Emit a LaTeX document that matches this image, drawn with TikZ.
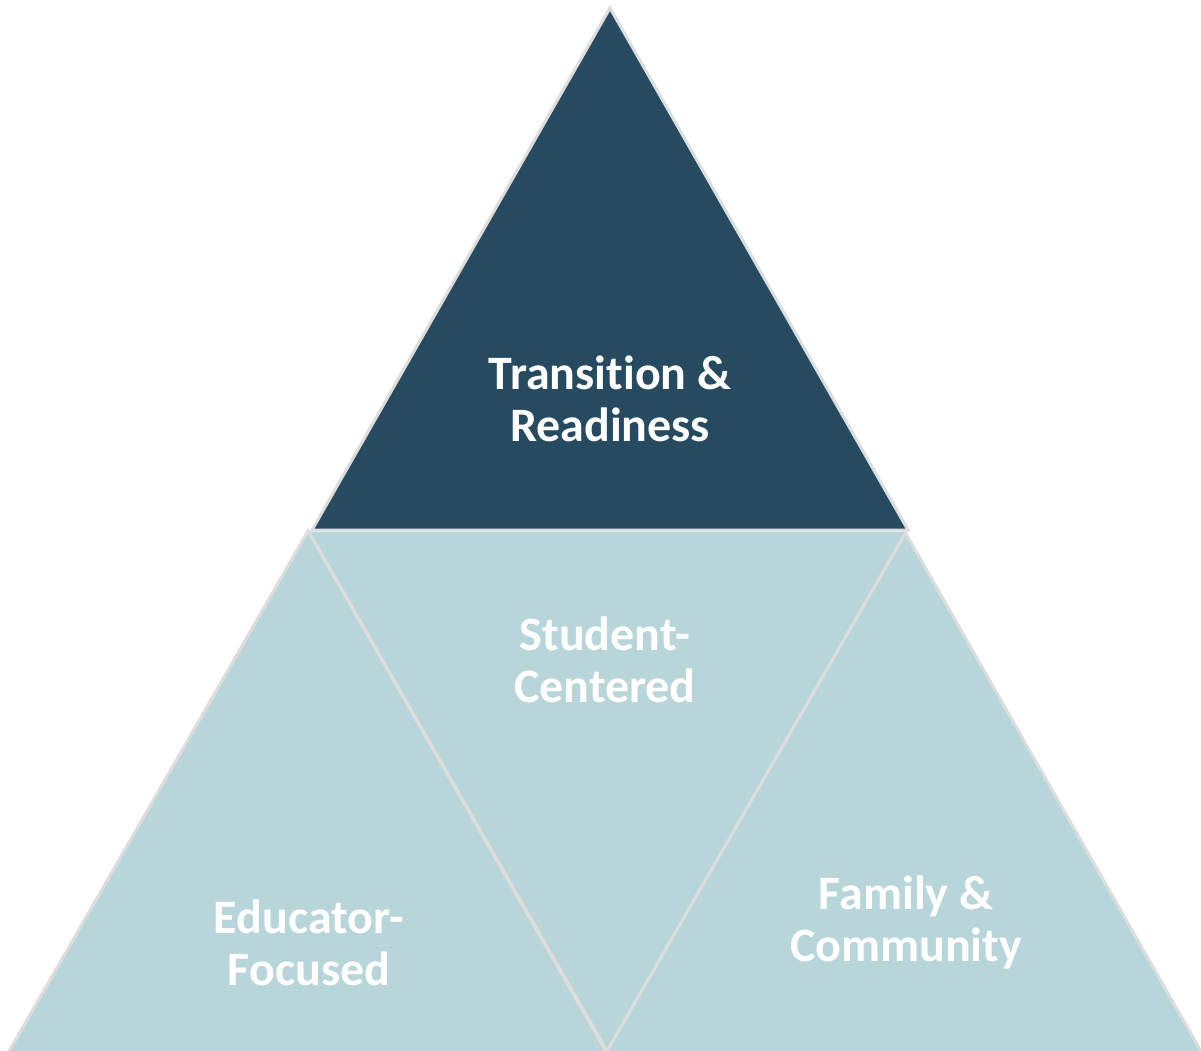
\documentclass[tikz,border=0pt]{standalone}
\usepackage{fontspec}
\setmainfont[Ligatures=NoCommon]{Carlito}
\definecolor{darkblue}{HTML}{264A5F}
\definecolor{lightteal}{HTML}{B8D6D9}
\definecolor{edgegray}{HTML}{DDDDDD}
\begin{document}
\begin{tikzpicture}[x=1pt,y=-1pt,
  tri/.style={draw=edgegray,line width=3pt,line join=miter},
  lbl/.style={text=white,font=\fontsize{48}{52}\selectfont\bfseries,align=center,inner sep=0pt}]
\useasboundingbox (0,0) rectangle (1201,1051);
\clip (0,0) rectangle (1201,1051);
% bottom-left
\fill[lightteal] (308,531) -- (8,1053) -- (607,1053) -- cycle;
\draw[edgegray,line width=3pt] (8,1053) -- (308,531) -- (607,1053);
% bottom-right
\fill[lightteal] (905,532) -- (605,1053) -- (1202,1053) -- cycle;
\draw[edgegray,line width=3pt] (605,1053) -- (905,532) -- (1202,1053);
% middle inverted
\fill[lightteal] (309,532) -- (906,532) -- (607,1051) -- cycle;
\draw[edgegray,line width=3pt] (309,532) -- (607,1051) -- (906,532);
% top
\filldraw[tri,fill=darkblue] (610,8) -- (312,530) -- (908,530) -- cycle;
\node[lbl] (top) at (610,399) {Transition \&\\Readiness};
\node[lbl] (mid) at (605,660) {Student-\\Centered};
\node[lbl] (left) at (309,943) {Educator-\\Focused};
\node[lbl] (right) at (906,922) {Family \&\\Community};
\end{tikzpicture}
\end{document}
